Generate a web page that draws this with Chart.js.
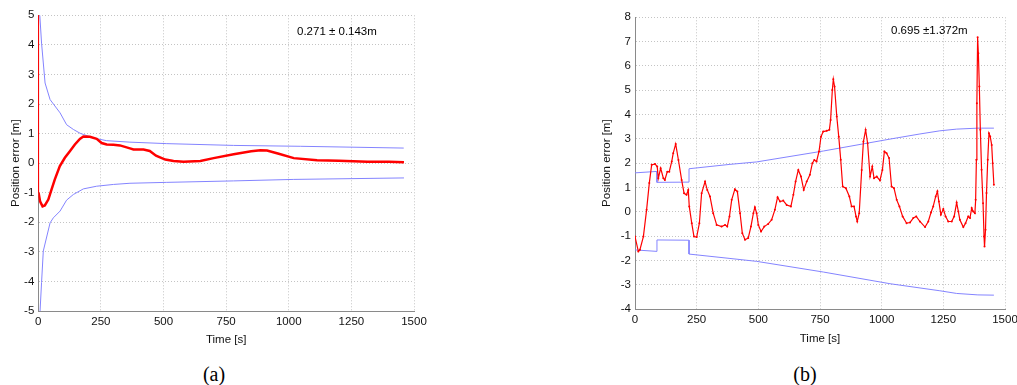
<!DOCTYPE html>
<html>
<head>
<meta charset="utf-8">
<script src="https://cdn.jsdelivr.net/npm/chart.js@4.4.1/dist/chart.umd.min.js"></script>
<style>
  html, body { margin: 0; padding: 0; background: #fff; }
  body { width: 1017px; height: 385px; position: relative; overflow: hidden; font-family: "Liberation Sans", Arial, sans-serif; }
  .box { position: absolute; top: 0; height: 350px; }
  .note { position: absolute; font-size: 11.5px; color: #000; white-space: nowrap; line-height: 1; }
  .cap { position: absolute; font-family: "Liberation Serif", "Times New Roman", serif; font-size: 20px; line-height: 1; transform: translateX(-50%); }
</style>
</head>
<body>
<div class="box" style="left:0;width:430px"><canvas id="chartA" width="430" height="350"></canvas></div>
<div class="box" style="left:590px;width:427px"><canvas id="chartB" width="427" height="350"></canvas></div>
<div class="note" style="left:297px;top:26px">0.271 ± 0.143m</div>
<div class="note" style="left:891px;top:25px">0.695 ±1.372m</div>
<div class="cap" style="left:214px;top:364px">(a)</div>
<div class="cap" style="left:805px;top:364px">(b)</div>

<script>
// tick labels
const timeTicks = [0, 250, 500, 750, 1000, 1250, 1500];
const aErrTicks = [-5, -4, -3, -2, -1, 0, 1, 2, 3, 4, 5];
const bErrTicks = [-4, -3, -2, -1, 0, 1, 2, 3, 4, 5, 6, 7, 8];

// (a) position error (red) and +/- bound (blue)
const aErrT = [0, 1, 7, 17, 26, 40, 53, 66, 86, 106, 126, 146, 166, 180, 206, 233, 253, 273, 300, 326, 366, 380, 420, 445, 470, 507, 540, 580, 647, 700, 780, 850, 887, 913, 960, 1020, 1113, 1200, 1314, 1400, 1460];
const aErrY = [5.3, -1.0, -1.29, -1.46, -1.43, -1.23, -0.89, -0.55, -0.10, 0.18, 0.40, 0.63, 0.82, 0.90, 0.89, 0.82, 0.68, 0.63, 0.62, 0.60, 0.50, 0.46, 0.46, 0.41, 0.25, 0.12, 0.07, 0.05, 0.07, 0.17, 0.30, 0.40, 0.44, 0.43, 0.32, 0.17, 0.10, 0.08, 0.05, 0.05, 0.03];
const aUpT = [6, 13, 27, 47, 87, 113, 140, 167, 180, 220, 273, 366, 513, 779, 1046, 1459];
const aUpY = [5.0, 4.06, 2.71, 2.15, 1.70, 1.30, 1.14, 1.01, 0.97, 0.85, 0.76, 0.71, 0.66, 0.60, 0.57, 0.51];
const aLoT = [7, 13, 20, 47, 60, 87, 113, 140, 180, 233, 300, 366, 513, 780, 1020, 1460];
const aLoY = [-5.0, -4.04, -2.97, -2.02, -1.85, -1.62, -1.25, -1.06, -0.87, -0.78, -0.72, -0.68, -0.65, -0.60, -0.55, -0.50];

// (b) position error (red) and +/- bound (blue)
const bErrT = [0, 13.5, 20, 34, 47, 58, 67.5, 81, 90, 94.5, 104, 115, 121, 131, 139, 149, 155, 165, 176, 189, 199, 209, 216, 220, 230, 239, 250, 261, 270, 284, 293, 304, 317, 331, 351, 365, 374, 383, 392, 405, 415, 426, 435, 446, 459, 470, 480, 486, 493, 500, 511, 524, 540, 554, 567, 578, 588, 601, 615, 632, 642, 651, 662, 673, 684, 696, 709, 719, 727, 736, 746, 754, 763, 777, 788, 793, 800, 804, 809, 818, 826, 834, 842, 855, 869, 878, 888, 896, 901, 909, 919, 926, 935, 943, 953, 962, 969, 980, 993, 1003, 1011, 1020, 1030, 1040, 1050, 1061, 1072, 1085, 1101, 1115, 1128, 1140, 1155, 1176, 1189, 1200, 1209, 1219, 1226, 1232, 1240, 1250, 1259, 1270, 1284, 1294, 1304, 1311, 1317, 1331, 1340, 1351, 1358, 1365, 1371, 1378, 1381, 1384, 1386, 1389, 1392, 1396, 1400, 1405, 1411, 1415, 1417, 1421, 1425, 1430, 1435, 1440, 1446, 1450, 1455];
const bErrY = [-1.02, -1.63, -1.56, -1.02, 0.08, 1.18, 1.93, 1.97, 1.86, 1.38, 1.79, 1.38, 1.31, 1.65, 1.65, 2.07, 2.41, 2.79, 2.13, 1.31, 0.76, 0.70, 0.90, 0.22, -0.47, -1.02, -1.04, -0.47, 0.76, 1.24, 0.90, 0.63, -0.06, -0.54, -0.61, -0.54, -0.61, -0.19, 0.49, 0.93, 0.83, -0.06, -0.88, -1.15, -1.08, -0.61, -0.06, 0.19, -0.06, -0.54, -0.81, -0.61, -0.50, -0.33, 0.08, 0.60, 0.42, 0.46, 0.28, 0.22, 0.70, 1.24, 1.72, 1.45, 0.90, 1.24, 1.52, 2.00, 2.13, 2.07, 2.48, 3.09, 3.30, 3.33, 3.37, 3.78, 5.01, 5.45, 5.15, 3.92, 3.09, 2.14, 1.04, 0.97, 0.63, 0.22, 0.22, -0.19, -0.40, -0.06, 1.72, 2.89, 3.37, 2.82, 1.45, 1.86, 1.38, 1.45, 1.29, 1.72, 2.48, 2.41, 2.21, 1.04, 0.97, 0.49, 0.22, -0.19, -0.47, -0.44, -0.26, -0.19, -0.40, -0.63, -0.40, -0.03, 0.22, 0.63, 0.84, 0.42, -0.12, 0.11, -0.19, -0.40, -0.40, -0.19, 0.38, 0.01, -0.33, -0.63, -0.47, -0.19, -0.26, 0.15, 0.01, -0.06, 0.49, 2.14, 4.46, 7.18, 6.52, 5.15, 3.37, 1.73, 0.35, -1.02, -1.43, -0.74, 0.77, 2.14, 3.23, 3.10, 2.75, 2.00, 1.11];
const bUpT = [0, 89, 89, 219, 219, 385, 493, 764, 1034, 1155, 1236, 1304, 1390, 1455];
const bUpY = [1.60, 1.66, 1.21, 1.22, 1.77, 1.95, 2.05, 2.50, 2.99, 3.20, 3.33, 3.40, 3.44, 3.44];
const bLoT = [0, 89, 89, 219, 219, 385, 493, 764, 1034, 1236, 1304, 1390, 1455];
const bLoY = [-1.57, -1.63, -1.16, -1.17, -1.74, -1.92, -2.04, -2.48, -2.96, -3.25, -3.36, -3.42, -3.43];

const RED = '#ff0000';
const BLUE = '#8484ff';
const FONT = { family: '"Liberation Sans", Arial, sans-serif', size: 11.5 };

function pts(ts, ys) {
    return ts.map((t, i) => ({ x: t, y: ys[i] }));
}

function makeChart(id, datasets, yTicks, box) {
    const grid = { color: '#c4c4c4', lineWidth: 1, drawTicks: false };
    const border = { display: true, color: '#8a8a8a', width: 1, dash: [1, 2] };
    const plain = v => String(v);
    return new Chart(document.getElementById(id), {
        type: 'line',
        data: { datasets },
        options: {
            responsive: false,
            animation: false,
            layout: { padding: { left: 0, top: box.top, right: box.right, bottom: 0 } },
            plugins: { legend: { display: false }, tooltip: { enabled: false } },
            elements: { line: { tension: 0 }, point: { radius: 0 } },
            scales: {
                x: {
                    type: 'linear',
                    min: timeTicks[0],
                    max: timeTicks[timeTicks.length - 1],
                    grid, border,
                    ticks: { stepSize: timeTicks[1] - timeTicks[0], padding: 4, color: '#111', font: FONT, maxRotation: 0, callback: plain },
                    title: { display: true, text: 'Time [s]', color: '#111', font: FONT, padding: { top: 0, bottom: box.xTitlePad } },
                    afterFit: s => { s.height = box.xAxisH; s.paddingLeft = 0; s.paddingRight = 0; }
                },
                y: {
                    type: 'linear',
                    min: yTicks[0],
                    max: yTicks[yTicks.length - 1],
                    grid, border,
                    ticks: { stepSize: 1, padding: 4, color: '#111', font: FONT, callback: plain },
                    title: { display: true, text: 'Position error [m]', color: '#111', font: FONT, padding: { top: box.yTitlePad, bottom: 0 } },
                    afterFit: s => { s.width = box.yAxisW; s.paddingTop = 0; s.paddingBottom = 0; }
                }
            }
        }
    });
}

makeChart('chartA', [
    {
        data: pts(aErrT, aErrY), borderColor: RED, borderWidth: 2.5,
        segment: { borderWidth: c => c.p0DataIndex === 0 ? 1 : 2.5 }
    },
    { data: pts(aUpT, aUpY), borderColor: BLUE, borderWidth: 1 },
    { data: pts(aLoT, aLoY), borderColor: BLUE, borderWidth: 1 }
], aErrTicks, { top: 15.3, right: 16, yAxisW: 38.3, xAxisH: 39, yTitlePad: 9, xTitlePad: 3 });

makeChart('chartB', [
    {
        data: pts(bErrT, bErrY), borderColor: RED, borderWidth: 1.2,
        pointRadius: 1, pointBackgroundColor: RED, pointBorderWidth: 0
    },
    { data: pts(bUpT, bUpY), borderColor: BLUE, borderWidth: 1 },
    { data: pts(bLoT, bLoY), borderColor: BLUE, borderWidth: 1 }
], bErrTicks, { top: 17.3, right: 12, yAxisW: 45, xAxisH: 41, yTitlePad: 10, xTitlePad: 4 });
</script>
</body>
</html>
